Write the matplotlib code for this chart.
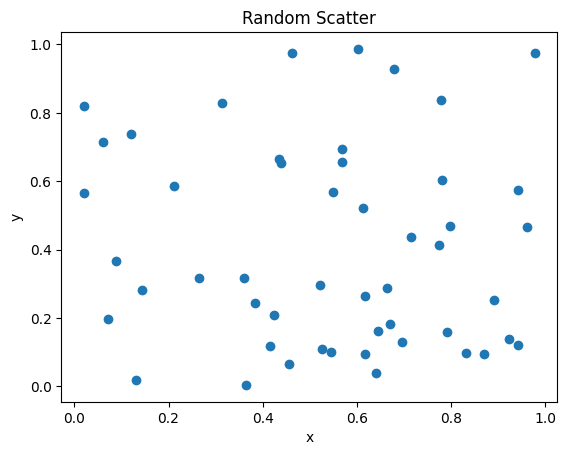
import matplotlib

matplotlib.use("Agg")
import matplotlib.pyplot as plt

# Point coordinates
x = [
    0.020, 0.060, 0.120, 0.020, 0.211, 0.314, 0.4355, 0.438, 0.462,
    0.602, 0.680, 0.778, 0.978, 0.568, 0.568, 0.780, 0.942, 0.549, 0.613,
    0.088, 0.143, 0.071, 0.130, 0.264, 0.360, 0.384, 0.424, 0.415, 0.455, 0.364,
    0.797, 0.715, 0.774, 0.962, 0.521, 0.617, 0.665, 0.891, 0.670, 0.644,
    0.697, 0.791, 0.924, 0.943, 0.527, 0.545, 0.617, 0.831, 0.870, 0.640,
]
y = [
    0.821, 0.715, 0.739, 0.566, 0.586, 0.830, 0.666, 0.654, 0.976,
    0.987, 0.929, 0.838, 0.976, 0.693, 0.657, 0.604, 0.575, 0.569, 0.522,
    0.367, 0.282, 0.197, 0.019, 0.317, 0.317, 0.244, 0.209, 0.118, 0.064, 0.004,
    0.469, 0.437, 0.414, 0.466, 0.297, 0.265, 0.288, 0.253, 0.183, 0.162,
    0.130, 0.159, 0.139, 0.121, 0.110, 0.101, 0.095, 0.098, 0.095, 0.039,
]

fig, ax = plt.subplots(figsize=(6.4, 4.8), dpi=100)
ax.scatter(x, y)
ax.set_title("Random Scatter")
ax.set_xlabel("x")
ax.set_ylabel("y")
fig.savefig("out.png", dpi=100, bbox_inches="tight")
plt.close(fig)
